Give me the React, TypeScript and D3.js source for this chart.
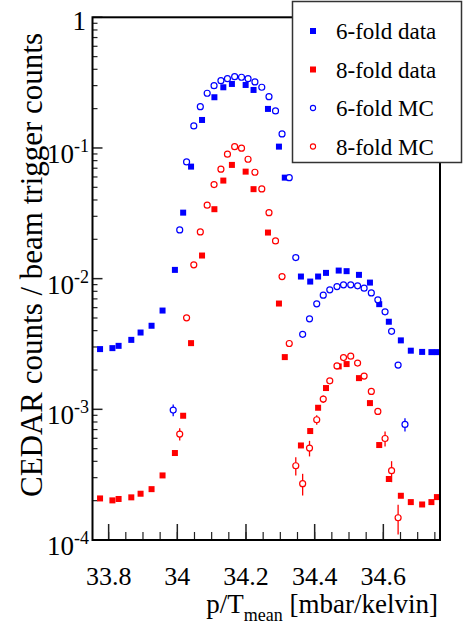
import React from "react";
import * as d3 from "d3";

// ---- data ----
const xTickValues = [33.8, 34.0, 34.2, 34.4, 34.6];
const xTickLabels = ["33.8", "34", "34.2", "34.4", "34.6"];
const xMinorTicks = [33.8, 33.85, 33.9, 33.95, 34.0, 34.05, 34.1, 34.15, 34.2, 34.25, 34.3, 34.35, 34.4, 34.45, 34.5, 34.55, 34.6, 34.65, 34.7, 34.75];
const yDecades = [1, 1e-1, 1e-2, 1e-3, 1e-4];
const yDecadeExp = ["0", "-1", "-2", "-3", "-4"];

const dataP = [33.775, 33.811, 33.829, 33.866, 33.893, 33.925, 33.957, 33.993, 34.017, 34.040, 34.072, 34.108, 34.134, 34.159, 34.199, 34.222, 34.264, 34.296, 34.313, 34.360, 34.387, 34.410, 34.433, 34.470, 34.493, 34.529, 34.561, 34.588, 34.616, 34.651, 34.680, 34.713, 34.740, 34.756];
const sixFoldData = [0.00289, 0.00294, 0.00306, 0.0034, 0.00387, 0.00436, 0.0057, 0.01167, 0.032, 0.072, 0.1638, 0.2445, 0.2914, 0.309, 0.3035, 0.278, 0.199, 0.1024, 0.0593, 0.01038, 0.0095, 0.01038, 0.01107, 0.01153, 0.01141, 0.01069, 0.00933, 0.00638, 0.00468, 0.00337, 0.00281, 0.00275, 0.00274, 0.00274];
const eightFoldData = [2.08e-4, 2.01e-4, 2.06e-4, 2.12e-4, 2.26e-4, 2.45e-4, 3.12e-4, 4.63e-4, 8.93e-4, 3.21e-3, 0.01503, 0.034, 0.0563, 0.0742, 0.0659, 0.0484, 0.02253, 0.00645, 0.00251, 5.29e-4, 6.82e-4, 1.028e-3, 1.455e-3, 2.13e-3, 2.22e-3, 1.733e-3, 1.116e-3, 5.33e-4, 2.93e-4, 2.18e-4, 1.95e-4, 1.87e-4, 1.95e-4, 2.13e-4];

const mcP = [33.988, 34.007, 34.027, 34.048, 34.067, 34.087, 34.107, 34.127, 34.146, 34.167, 34.187, 34.206, 34.226, 34.246, 34.267, 34.286, 34.305, 34.326, 34.345, 34.365, 34.385, 34.406, 34.425, 34.444, 34.465, 34.484, 34.505, 34.525, 34.544, 34.565, 34.584, 34.605, 34.624, 34.643, 34.663];
const sixFoldMC = [9.87e-4, 0.0236, 0.0782, 0.1475, 0.2072, 0.2623, 0.2998, 0.3275, 0.3392, 0.3513, 0.3476, 0.3392, 0.32, 0.2915, 0.247, 0.192, 0.1281, 0.0593, 0.0145, 0.00375, 0.00493, 0.00642, 0.00748, 0.00821, 0.0087, 0.00897, 0.00897, 0.00881, 0.00846, 0.00778, 0.00689, 0.00557, 0.00395, 0.00218, 7.66e-4];
const sixFoldMCErr = [1.0e-4, 0, 0, 0, 0, 0, 0, 0, 0, 0, 0, 0, 0, 0, 0, 0, 0, 0, 0, 0, 0, 0, 0, 0, 0, 0, 0, 0, 0, 0, 0, 0, 0, 1.1e-4, 9e-5];
const eightFoldMC = [null, 6.47e-4, 5.01e-3, 0.01275, 0.0228, 0.0365, 0.0525, 0.0688, 0.0896, 0.1024, 0.0996, 0.082, 0.0652, 0.0486, 0.032, 0.01945, 0.01038, 3.19e-3, 3.7e-4, 2.7e-4, 5.05e-4, 8.32e-4, 1.198e-3, 1.653e-3, 2.15e-3, 2.49e-3, 2.55e-3, 2.26e-3, 1.796e-3, 1.37e-3, 9.63e-4, 5.98e-4, 3.39e-4, 1.48e-4, null];
const eightFoldMCErr = [0, 7e-5, 0, 0, 0, 0, 0, 0, 0, 0, 0, 0, 0, 0, 0, 0, 0, 0, 5.9e-5, 5.1e-5, 6.9e-5, 7e-5, 8e-5, 0, 0, 0, 0, 0, 0, 8e-5, 5e-5, 7.8e-5, 6.2e-5, 3.8e-5, 0];

const legendLabels = ["6-fold data", "8-fold data", "6-fold MC", "8-fold MC"];

const BLUE = "#0000ff";
const RED = "#ff0000";
const FONT = "Liberation Serif, Times New Roman, Times, serif";

const W = 464;
const H = 630;
const left = 92.5;
const right = 440;
const top = 17.3;
const bottom = 540;

export default function App() {
  const x = d3.scaleLinear().domain([33.753, 34.765]).range([left, right]);
  const y = d3.scaleLog().domain([1e-4, 1]).range([bottom, top]);
  const minorY: number[] = [];
  for (let e = -4; e < 0; e++) {
    for (let m = 2; m <= 9; m++) minorY.push(m * Math.pow(10, e));
  }
  const sq = 6;
  const r = 3;
  const tf = { fontFamily: FONT };

  const squares = (px: number[], vals: number[], color: string, key: string) =>
    px.map((p, i) => (
      <rect key={key + i} x={x(p) - sq / 2} y={y(vals[i]) - sq / 2} width={sq} height={sq} fill={color} />
    ));

  const circles = (px: number[], vals: (number | null)[], errs: number[], color: string, key: string) =>
    px.map((p, i) => {
      const v = vals[i];
      if (v == null) return null;
      const cx = x(p);
      const cy = y(v);
      const e = errs[i];
      return (
        <g key={key + i}>
          {e > 0 && (
            <line x1={cx} x2={cx} y1={y(v + e)} y2={y(Math.max(v - e, 1.01e-4))} stroke={color} strokeWidth={1.3} />
          )}
          <circle cx={cx} cy={cy} r={r} fill="white" stroke={color} strokeWidth={1.2} />
        </g>
      );
    });

  return (
    <svg width={W} height={H} style={{ position: "absolute", left: 0, top: 0, background: "white", fontFamily: FONT }}>
      <rect x={0} y={0} width={W} height={H} fill="white" />
      <defs>
        <clipPath id="plotClip">
          <rect x={left} y={top} width={right - left} height={bottom - top} />
        </clipPath>
      </defs>

      {/* y ticks */}
      {yDecades.map((v, i) => (
        <line key={"ym" + i} x1={left} x2={left + 10} y1={y(v)} y2={y(v)} stroke="#222" strokeWidth={1.5} />
      ))}
      {minorY.map((v, i) => (
        <line key={"yn" + i} x1={left} x2={left + 5} y1={y(v)} y2={y(v)} stroke="#222" strokeWidth={1.2} />
      ))}
      {/* x ticks */}
      {xMinorTicks.map((v, i) => (
        <line key={"xn" + i} x1={x(v)} x2={x(v)} y1={bottom} y2={bottom - 8} stroke="#222" strokeWidth={1.2} />
      ))}
      {xTickValues.map((v, i) => (
        <line key={"xm" + i} x1={x(v)} x2={x(v)} y1={bottom} y2={bottom - 16} stroke="#222" strokeWidth={1.5} />
      ))}

      {/* markers */}
      <g clipPath="url(#plotClip)">
        {squares(dataP, sixFoldData, BLUE, "b")}
        {squares(dataP, eightFoldData, RED, "r")}
        {circles(mcP, sixFoldMC, sixFoldMCErr, BLUE, "bc")}
        {circles(mcP, eightFoldMC, eightFoldMCErr, RED, "rc")}
      </g>

      {/* frame */}
      <rect x={left} y={top} width={right - left} height={bottom - top} fill="none" stroke="#000" strokeWidth={2} />

      {/* y tick labels */}
      {yDecades.map((v, i) =>
        i === 0 ? (
          <text key={"yl" + i} x={86} y={y(v) + 13} fontSize={27} textAnchor="end" fill="#000" style={tf}>1</text>
        ) : (
          <text key={"yl" + i} x={89} y={y(v) + 15} fontSize={27} textAnchor="end" fill="#000" style={tf}>
            10<tspan fontSize={18} dy={-11}>{yDecadeExp[i]}</tspan>
          </text>
        )
      )}

      {/* x tick labels */}
      {xTickValues.map((v, i) => (
        <text key={"xl" + i} x={x(v)} y={585} fontSize={26} textAnchor="middle" fill="#000" style={tf}>{xTickLabels[i]}</text>
      ))}

      {/* axis titles */}
      <text x={438} y={613} fontSize={27} textAnchor="end" fill="#000" style={tf}>
        p/T<tspan fontSize={18} dy={8}>mean</tspan><tspan dy={-8}> [mbar/kelvin]</tspan>
      </text>
      <text transform="translate(42,265) rotate(-90)" fontSize={31} textAnchor="middle" fill="#000" style={tf}>
        CEDAR counts / beam trigger counts
      </text>

      {/* legend */}
      <rect x={292.5} y={1.5} width={169} height={161} fill="white" stroke="#333" strokeWidth={1.5} />
      {legendLabels.map((lab, i) => {
        const ly = 31 + i * 38.5;
        const color = i % 2 === 0 ? BLUE : RED;
        return (
          <g key={"lg" + i}>
            {i < 2 ? (
              <rect x={313 - 3} y={ly - 3} width={6} height={6} fill={color} />
            ) : (
              <circle cx={313} cy={ly} r={2.6} fill="white" stroke={color} strokeWidth={1.1} />
            )}
            <text x={336} y={ly + 8} fontSize={23} fill="#000" style={tf}>{lab}</text>
          </g>
        );
      })}
    </svg>
  );
}
